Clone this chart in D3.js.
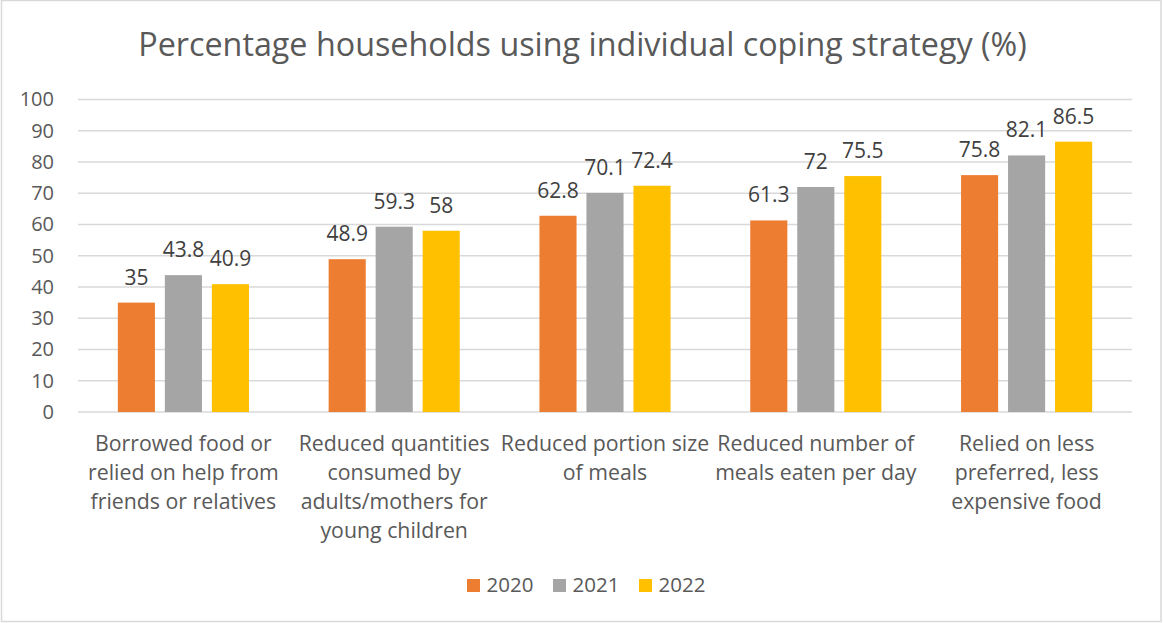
<!DOCTYPE html>
<html>
<head>
<meta charset="utf-8">
<script src="https://cdn.jsdelivr.net/npm/d3@7"></script>
<style>
  html, body { margin: 0; padding: 0; background: #fff; }
  svg { display: block; font-family: "Open Sans", Lato, sans-serif; }
</style>
</head>
<body>
<svg id="chart" width="1163" height="623"></svg>
<script>
const categories = [
  ["Borrowed food or", "relied on help from", "friends or relatives"],
  ["Reduced quantities", "consumed by", "adults/mothers for", "young children"],
  ["Reduced portion size", "of meals"],
  ["Reduced number of", "meals eaten per day"],
  ["Relied on less", "preferred, less", "expensive food"]
];
const seriesNames = ["2020", "2021", "2022"];
const values2020 = [35, 48.9, 62.8, 61.3, 75.8];
const values2021 = [43.8, 59.3, 70.1, 72, 82.1];
const values2022 = [40.9, 58, 72.4, 75.5, 86.5];
const yTicks = [0, 10, 20, 30, 40, 50, 60, 70, 80, 90, 100];
const colors = ["#ED7D31", "#A5A5A5", "#FFC000"];
const titleText = "Percentage households using individual coping strategy (%)";

const series = [values2020, values2021, values2022];
const svg = d3.select("#chart");
const FONT = "'Open Sans', Lato, sans-serif";

svg.append("rect")
  .attr("x", 1.5).attr("y", 0.5).attr("width", 1159.5).attr("height", 621)
  .attr("fill", "#fff").attr("stroke", "#d9d9d9").attr("stroke-width", 1.5);

const pLeft = 78, pRight = 1132, pTop = 99.5, pBottom = 412;

const x = d3.scaleBand().domain(d3.range(categories.length)).range([pLeft, pRight]).padding(0);
const y = d3.scaleLinear().domain([0, 100]).range([pBottom, pTop]);

// title
svg.append("text")
  .attr("x", 582.5).attr("y", 55.5)
  .attr("text-anchor", "middle")
  .attr("font-size", 32.3)
  .attr("fill", "#595959")
  .text(titleText);

// gridlines
svg.append("g").selectAll("line").data(yTicks).join("line")
  .attr("x1", pLeft).attr("x2", pRight)
  .attr("y1", d => y(d)).attr("y2", d => y(d))
  .attr("stroke", "#d9d9d9").attr("stroke-width", 1.3);

// y axis labels
const yAxis = d3.axisLeft(y).tickValues(yTicks).tickSize(0).tickPadding(0);
const gy = svg.append("g").attr("transform", `translate(54,0)`).call(yAxis);
gy.select(".domain").remove();
gy.selectAll("text")
  .attr("font-family", FONT)
  .attr("font-size", 20)
  .attr("fill", "#595959");

// bars
const band = x.bandwidth();
const barW = band * 0.176;
const gap = band * 0.047;
const groupW = barW * 3 + gap * 2;

const gBars = svg.append("g");
series.forEach((vals, si) => {
  const g = gBars.append("g");
  g.selectAll("rect").data(vals).join("rect")
    .attr("x", (d, i) => x(i) + band / 2 - groupW / 2 + si * (barW + gap))
    .attr("y", d => y(d))
    .attr("width", barW)
    .attr("height", d => y(0) - y(d))
    .attr("fill", colors[si]);
  g.selectAll("text").data(vals).join("text")
    .attr("x", (d, i) => x(i) + band / 2 - groupW / 2 + si * (barW + gap) + barW / 2)
    .attr("y", d => y(d) - 18)
    .attr("text-anchor", "middle")
    .attr("font-size", 21)
    .attr("fill", "#404040")
    .text(d => d);
});

// category labels
const gx = svg.append("g");
categories.forEach((lines, i) => {
  const t = gx.append("text")
    .attr("x", x(i) + band / 2)
    .attr("y", 451)
    .attr("text-anchor", "middle")
    .attr("font-size", 21.3)
    .attr("fill", "#595959");
  lines.forEach((ln, j) => {
    t.append("tspan").attr("x", x(i) + band / 2).attr("y", 451 + j * 29).text(ln);
  });
});

// legend
const legendX = [467, 553, 639];
const lg = svg.append("g");
seriesNames.forEach((name, i) => {
  lg.append("rect").attr("x", legendX[i]).attr("y", 579).attr("width", 13).attr("height", 13).attr("fill", colors[i]);
  lg.append("text").attr("x", legendX[i] + 19.5).attr("y", 592)
    .attr("font-size", 20.5).attr("fill", "#595959").text(name);
});
</script>
</body>
</html>
